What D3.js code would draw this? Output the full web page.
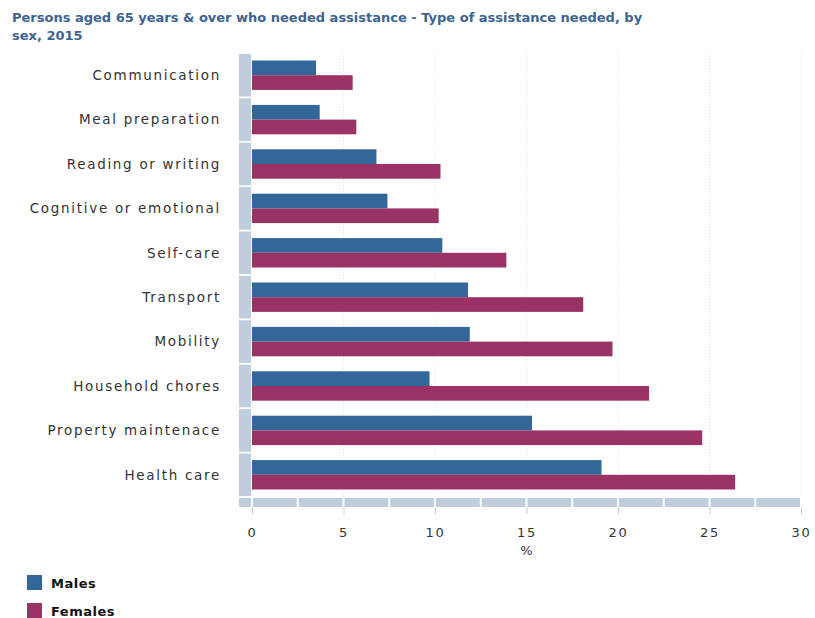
<!DOCTYPE html>
<html>
<head>
<meta charset="utf-8">
<script src="https://cdn.jsdelivr.net/npm/d3@7"></script>
<style>
  body { margin: 0; background: #fff; }
  svg { font-family: "DejaVu Sans", Verdana, sans-serif; }
</style>
</head>
<body>
<div id="container"></div>
<script>
const categories = ["Communication", "Meal preparation", "Reading or writing", "Cognitive or emotional",
  "Self-care", "Transport", "Mobility", "Household chores", "Property maintenace", "Health care"];
const males = [3.5, 3.7, 6.8, 7.4, 10.4, 11.8, 11.9, 9.7, 15.3, 19.1];
const females = [5.5, 5.7, 10.3, 10.2, 13.9, 18.1, 19.7, 21.7, 24.6, 26.4];
const series = ["Males", "Females"];
const ticks = [0, 5, 10, 15, 20, 25, 30];

const width = 815, height = 618;
const colors = {Males: "#336699", Females: "#993366"};
const bandColor = "#bfcddd";

const svg = d3.select("#container").append("svg")
  .attr("width", width).attr("height", height);

// title
const title = svg.append("text")
  .attr("x", 12).attr("y", 22)
  .attr("fill", "#3d6393")
  .style("font-size", "13px").style("font-weight", "bold");
title.append("tspan").attr("x", 12).text("Persons aged 65 years & over who needed assistance - Type of assistance needed, by");
title.append("tspan").attr("x", 12).attr("dy", 18).text("sex, 2015");

const x = d3.scaleLinear().domain([0, 30]).range([252, 801]);
const y = d3.scaleBand().domain(categories).range([53, 497]).paddingInner(0.04).paddingOuter(0.02);
const inner = d3.scaleBand().domain(series).range([0, y.bandwidth()]).paddingOuter(0.45).paddingInner(0);

// gridlines
svg.append("g").selectAll("line")
  .data(ticks.slice(1))
  .join("line")
  .attr("x1", d => x(d)).attr("x2", d => x(d))
  .attr("y1", 53).attr("y2", 497)
  .attr("stroke", "#d8dfe8").attr("stroke-dasharray", "1,2");

// left band strip
svg.append("g").selectAll("rect")
  .data(categories)
  .join("rect")
  .attr("x", 239).attr("width", 12)
  .attr("y", d => y(d)).attr("height", y.bandwidth())
  .attr("fill", bandColor);

// bottom strip, segments of 2.5
const segs = d3.range(0, 30, 2.5);
svg.append("g").selectAll("rect")
  .data(segs)
  .join("rect")
  .attr("x", d => x(d) + 1).attr("width", d => x(d + 2.5) - x(d) - 2)
  .attr("y", 498).attr("height", 9)
  .attr("fill", bandColor);
svg.append("rect").attr("x", 239).attr("width", 12).attr("y", 498).attr("height", 9).attr("fill", bandColor);

// bars
const groups = svg.append("g").selectAll("g")
  .data(categories)
  .join("g")
  .attr("transform", d => `translate(0,${y(d)})`);

groups.selectAll("rect")
  .data((d, i) => [{s: "Males", v: males[i]}, {s: "Females", v: females[i]}])
  .join("rect")
  .attr("x", x(0))
  .attr("y", d => inner(d.s))
  .attr("width", d => x(d.v) - x(0))
  .attr("height", inner.bandwidth())
  .attr("fill", d => colors[d.s]);

// category labels
svg.append("g").selectAll("text")
  .data(categories)
  .join("text")
  .attr("x", 221)
  .attr("y", d => y(d) + y.bandwidth() / 2)
  .attr("dy", "0.35em")
  .attr("text-anchor", "end")
  .attr("fill", "#333")
  .style("font-size", "13.5px")
  .style("letter-spacing", "1.7px")
  .text(d => d);

// x axis
const axis = svg.append("g").attr("transform", "translate(0,507)")
  .call(d3.axisBottom(x).tickValues(ticks).tickSize(7).tickPadding(14));
axis.select(".domain").remove();
axis.selectAll("line").attr("stroke", "#bfcddd");
axis.selectAll("text")
  .attr("fill", "#333")
  .style("font-size", "13px")
  .style("letter-spacing", "1.8px")
  .style("font-family", "DejaVu Sans, Verdana, sans-serif");

svg.append("text")
  .attr("x", x(15)).attr("y", 555)
  .attr("text-anchor", "middle")
  .attr("fill", "#333")
  .style("font-size", "13px")
  .text("%");

// legend
const legend = svg.append("g").selectAll("g")
  .data(series)
  .join("g")
  .attr("transform", (d, i) => `translate(27,${575 + i * 28})`);
legend.append("rect")
  .attr("width", 15).attr("height", 15)
  .attr("fill", d => colors[d]);
legend.append("text")
  .attr("x", 24).attr("y", 8).attr("dy", "0.35em")
  .attr("fill", "#111")
  .style("font-size", "13px").style("font-weight", "bold")
  .style("letter-spacing", "0.5px")
  .text(d => d);
</script>
</body>
</html>
